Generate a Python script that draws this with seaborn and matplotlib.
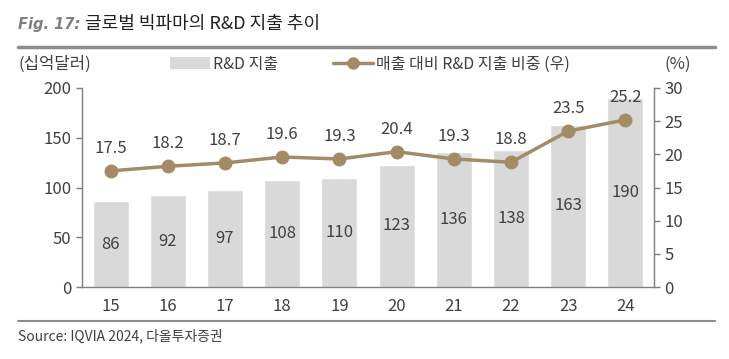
import matplotlib
matplotlib.use('Agg')
import matplotlib.pyplot as plt
import seaborn as sns
import pandas as pd
from matplotlib.lines import Line2D
from matplotlib.patches import Patch

# 데이터
years = ['15', '16', '17', '18', '19', '20', '21', '22', '23', '24']
rnd_spend = [86, 92, 97, 108, 110, 123, 136, 138, 163, 190]
rnd_ratio = [17.5, 18.2, 18.7, 19.6, 19.3, 20.4, 19.3, 18.8, 23.5, 25.2]

sns.set_style('white')
plt.rcParams['font.family'] = ['Noto Sans CJK KR', 'DejaVu Sans']

bar_color = '#d9d9d9'
line_color = '#a38b66'
text_color = '#404040'
axis_color = '#7f7f7f'

df = pd.DataFrame({'year': years, 'spend': rnd_spend, 'ratio': rnd_ratio})

fig = plt.figure(figsize=(7.29, 3.59), dpi=100)
ax = fig.add_axes([82 / 729, 1 - 287 / 359, 572 / 729, 199 / 359])

sns.barplot(data=df, x='year', y='spend', color=bar_color, width=0.63,
            saturation=1, ax=ax)
ax.set_ylim(0, 200)
ax.set_xlim(-0.5, 9.5)
ax.set_yticks(range(0, 201, 50))
ax.set_xlabel('')
ax.set_ylabel('')

for i, v in enumerate(rnd_spend):
    ax.text(i, v / 2, str(v), ha='center', va='center', fontsize=12, color=text_color)

ax2 = ax.twinx()
ax2.plot(range(len(years)), rnd_ratio, color=line_color, lw=2.5, marker='o',
         markersize=9)
ax2.set_ylim(0, 30)
ax2.set_yticks(range(0, 31, 5))
for i, v in enumerate(rnd_ratio):
    ax2.annotate(f'{v}', (i, v), xytext=(0, 10), textcoords='offset points',
                 ha='center', va='bottom', fontsize=12, color=text_color)

for a in (ax, ax2):
    for s in a.spines.values():
        s.set_visible(False)
    a.tick_params(colors=axis_color, labelcolor=text_color, labelsize=12,
                  length=4, width=1)
ax.spines['left'].set_visible(True)
ax.spines['bottom'].set_visible(True)
ax2.spines['right'].set_visible(True)
for s in (ax.spines['left'], ax.spines['bottom'], ax2.spines['right']):
    s.set_color(axis_color)
    s.set_linewidth(1)

# x축 눈금은 카테고리 경계에
ax.set_xticks([i - 0.5 for i in range(len(years) + 1)], minor=False)
ax.set_xticklabels([''] * (len(years) + 1))
ax.set_xticks(range(len(years)), minor=True)
ax.set_xticklabels(years, minor=True)
ax.tick_params(axis='x', which='minor', length=0, pad=8, labelsize=12,
               labelcolor=text_color)
ax.tick_params(axis='x', which='major', length=5, direction='out')

# 제목 영역
fig.text(18 / 729, 1 - 24 / 359, 'Fig. 17:', fontsize=10.5, fontweight='bold',
         fontstyle='italic', color='#7f7f7f', va='center', family='DejaVu Sans')
fig.text(85 / 729, 1 - 24 / 359, '글로벌 빅파마의 R&D 지출 추이', fontsize=13,
         color='#202020', va='center')
fig.add_artist(Line2D([18 / 729, 715 / 729], [1 - 47 / 359] * 2,
                      color='#8c8c8c', lw=2.5))
fig.add_artist(Line2D([18 / 729, 715 / 729], [1 - 321 / 359] * 2,
                      color='#8c8c8c', lw=1.5))
fig.text(18 / 729, 1 - 336 / 359, 'Source: IQVIA 2024, 다올투자증권', fontsize=10,
         color=text_color, va='center')

fig.text(18 / 729, 1 - 64 / 359, '(십억달러)', fontsize=12, color=text_color,
         va='center')
fig.text(678 / 729, 1 - 64 / 359, '(%)', fontsize=12, color=text_color,
         va='center', ha='center')

handles = [Patch(facecolor=bar_color, edgecolor='none'),
           Line2D([0], [0], color=line_color, lw=2.5, marker='o', markersize=8)]
fig.legend(handles, ['R&D 지출', '매출 대비 R&D 지출 비중 (우)'], ncol=2,
           loc='center', bbox_to_anchor=(370 / 729, 1 - 64 / 359), frameon=False,
           fontsize=11.5, labelcolor=text_color, handlelength=2.5, columnspacing=3.4,
           handletextpad=0.2, borderpad=0, borderaxespad=0)

fig.savefig('out.png', dpi=100)
